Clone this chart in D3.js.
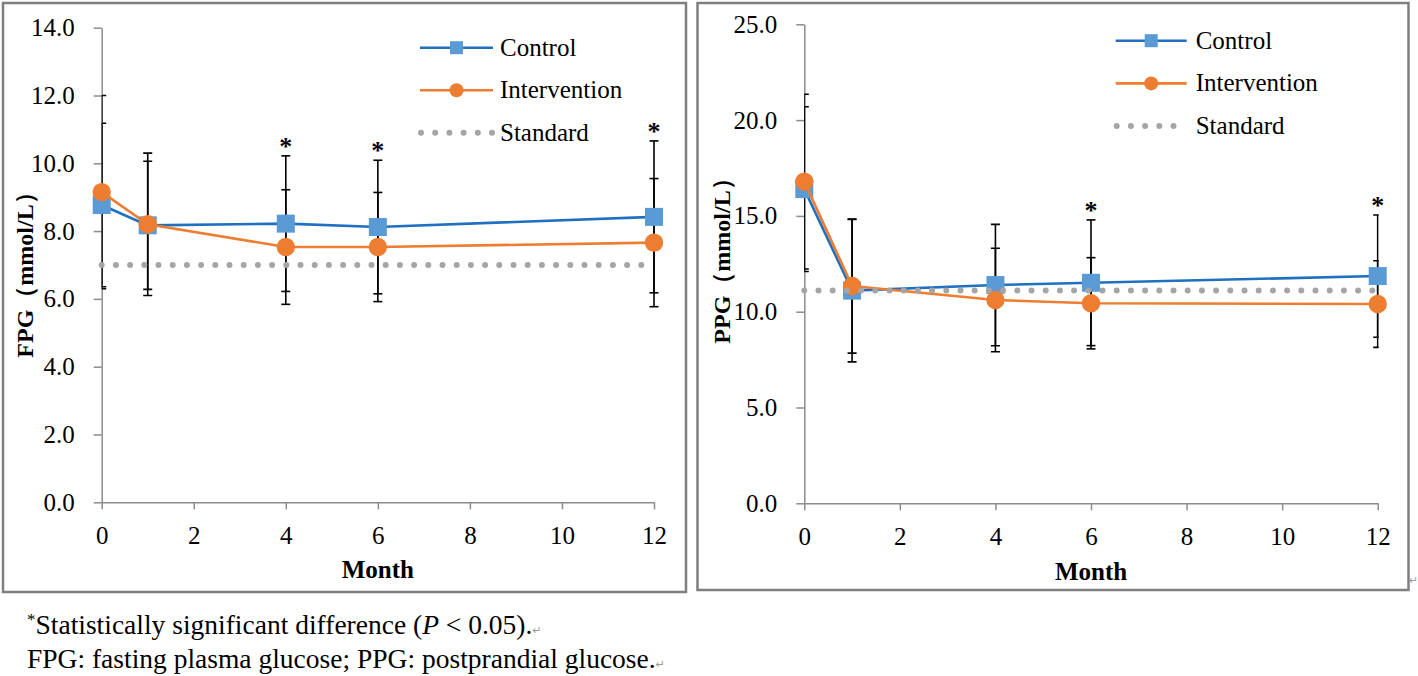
<!DOCTYPE html>
<html><head><meta charset="utf-8">
<script src="https://cdn.jsdelivr.net/npm/d3@7"></script>
<style>html,body{margin:0;padding:0;background:#fff;}svg{display:block;}</style>
</head><body>
<svg id="chart" width="1418" height="676"></svg>
<script>
// ---------- data ----------
const months = [0, 1, 4, 6, 12];
const xTicks = [0, 2, 4, 6, 8, 10, 12];
const seriesNames = ["Control", "Intervention", "Standard"];

const fpgControl = [8.77, 8.17, 8.22, 8.12, 8.42];
const fpgControlSD = [2.41, 1.89, 2.00, 1.97, 2.24];
const fpgIntervention = [9.15, 8.20, 7.53, 7.53, 7.66];
const fpgInterventionSD = [2.85, 2.10, 1.69, 1.61, 1.89];
const fpgStandard = 7.0;
const fpgSignificant = [false, false, true, true, true];
const fpgTicks = [0, 2, 4, 6, 8, 10, 12, 14];

const ppgControl = [16.40, 11.10, 11.39, 11.51, 11.86];
const ppgControlSD = [4.30, 3.72, 3.17, 3.28, 3.19];
const ppgIntervention = [16.79, 11.34, 10.61, 10.44, 10.40];
const ppgInterventionSD = [4.56, 3.50, 2.70, 2.38, 2.26];
const ppgStandard = 11.1;
const ppgSignificant = [false, false, false, true, true];
const ppgTicks = [0, 5, 10, 15, 20, 25];

// ---------- styles ----------
const SERIF = "'Liberation Serif','Times New Roman',serif";
const BLUE_LINE = "#1F70C1", BLUE_FILL = "#5B9BD5";
const ORANGE = "#ED7D31", GREY_DOT = "#A5A5A5", AXIS = "#8C8C8C";

const svg = d3.select("#chart");

function drawPanel(cfg) {
  const g = svg.append("g");
  // frame
  g.append("rect").attr("x", cfg.frame[0]).attr("y", cfg.frame[1])
    .attr("width", cfg.frame[2]).attr("height", cfg.frame[3])
    .attr("fill", "#fff").attr("stroke", "#7F7F7F").attr("stroke-width", 2.5);

  const x = d3.scaleLinear().domain([0, 12]).range(cfg.xRange);
  const y = d3.scaleLinear().domain(cfg.yDomain).range(cfg.yRange);

  // axes
  const yAxis = g.append("g").attr("transform", `translate(${cfg.xRange[0]},0)`)
    .call(d3.axisLeft(y).tickValues(cfg.yTicks).tickFormat(d3.format(".1f"))
      .tickSize(8).tickSizeOuter(0).tickPadding(19));
  const xAxis = g.append("g").attr("transform", `translate(0,${cfg.yRange[0]})`)
    .call(d3.axisBottom(x).tickValues(xTicks).tickFormat(d3.format("d"))
      .tickSize(7).tickSizeOuter(0).tickPadding(17));
  [yAxis, xAxis].forEach(a => {
    a.select(".domain").attr("stroke", AXIS).attr("stroke-width", 1.5);
    a.selectAll(".tick line").attr("stroke", AXIS).attr("stroke-width", 1.5);
    a.selectAll(".tick text").attr("fill", "#000").attr("font-family", SERIF).attr("font-size", 25);
  });

  // axis titles
  g.append("text").attr("transform", `translate(${cfg.yLabelPos[0]},${cfg.yLabelPos[1]}) rotate(-90)`)
    .attr("text-anchor", "middle").attr("font-family", SERIF).attr("font-weight", "bold")
    .attr("font-size", 24).attr("fill", "#000").text(cfg.yLabel);
  g.append("text").attr("x", (cfg.xRange[0] + cfg.xRange[1]) / 2).attr("y", cfg.xLabelY)
    .attr("text-anchor", "middle").attr("font-family", SERIF).attr("font-weight", "bold")
    .attr("font-size", 25).attr("fill", "#000").text("Month");

  // clip for error-bar caps
  const clipId = "clip" + cfg.id;
  svg.append("clipPath").attr("id", clipId).append("rect")
    .attr("x", cfg.xRange[0]).attr("y", 0)
    .attr("width", cfg.xRange[1] - cfg.xRange[0] + cfg.capExtra).attr("height", 676);

  const series = [
    {vals: cfg.control, sd: cfg.controlSD},
    {vals: cfg.intervention, sd: cfg.interventionSD}
  ];
  const eb = g.append("g").attr("clip-path", `url(#${clipId})`)
    .attr("stroke", "#000").attr("stroke-width", 1.6).attr("fill", "none");
  const capW = 4.5;
  series.forEach(s => {
    months.forEach((m, i) => {
      const cx = x(m), lo = y(s.vals[i] - s.sd[i]), hi = y(s.vals[i] + s.sd[i]);
      eb.append("line").attr("x1", cx).attr("x2", cx).attr("y1", lo).attr("y2", hi);
      eb.append("line").attr("x1", cx - capW).attr("x2", cx + capW).attr("y1", lo).attr("y2", lo);
      eb.append("line").attr("x1", cx - capW).attr("x2", cx + capW).attr("y1", hi).attr("y2", hi);
    });
  });

  // asterisks above the highest cap
  months.forEach((m, i) => {
    if (!cfg.significant[i]) return;
    const top = Math.min(y(cfg.control[i] + cfg.controlSD[i]), y(cfg.intervention[i] + cfg.interventionSD[i]));
    g.append("text").attr("x", x(m)).attr("y", top - 1).attr("text-anchor", "middle")
      .attr("font-family", SERIF).attr("font-weight", "bold").attr("font-size", 26).attr("fill", "#000").text("*");
  });

  const line = d3.line().x((d, i) => x(months[i])).y(d => y(d));
  // control
  g.append("path").datum(cfg.control).attr("d", line).attr("fill", "none")
    .attr("stroke", BLUE_LINE).attr("stroke-width", 2.6);
  g.selectAll(null).data(cfg.control).enter().append("rect")
    .attr("x", (d, i) => x(months[i]) - 9).attr("y", d => y(d) - 9)
    .attr("width", 18).attr("height", 18).attr("fill", BLUE_FILL);
  // intervention
  g.append("path").datum(cfg.intervention).attr("d", line).attr("fill", "none")
    .attr("stroke", ORANGE).attr("stroke-width", 2.6);
  g.selectAll(null).data(cfg.intervention).enter().append("circle")
    .attr("cx", (d, i) => x(months[i])).attr("cy", d => y(d)).attr("r", 9.2).attr("fill", ORANGE);
  // standard
  g.append("line").attr("x1", x(0)).attr("x2", x(12)).attr("y1", y(cfg.standard)).attr("y2", y(cfg.standard))
    .attr("stroke", GREY_DOT).attr("stroke-width", 6).attr("stroke-linecap", "round")
    .attr("stroke-dasharray", "0 14.2");

  // legend
  const L = cfg.legend; // [lineX1, lineX2, textX, y0, dy]
  const lg = g.append("g");
  seriesNames.forEach((name, i) => {
    const ly = L[3] + i * L[4];
    const mx = (L[0] + L[1]) / 2;
    if (i === 0) {
      lg.append("line").attr("x1", L[0]).attr("x2", L[1]).attr("y1", ly).attr("y2", ly)
        .attr("stroke", BLUE_LINE).attr("stroke-width", 2.6);
      lg.append("rect").attr("x", mx - 6.5).attr("y", ly - 6.5).attr("width", 13).attr("height", 13).attr("fill", BLUE_FILL);
    } else if (i === 1) {
      lg.append("line").attr("x1", L[0]).attr("x2", L[1]).attr("y1", ly).attr("y2", ly)
        .attr("stroke", ORANGE).attr("stroke-width", 2.6);
      lg.append("circle").attr("cx", mx).attr("cy", ly).attr("r", 7).attr("fill", ORANGE);
    } else {
      lg.append("line").attr("x1", L[0] + 1).attr("x2", L[1]).attr("y1", ly).attr("y2", ly)
        .attr("stroke", GREY_DOT).attr("stroke-width", 6).attr("stroke-linecap", "round")
        .attr("stroke-dasharray", "0 14.2");
    }
    lg.append("text").attr("x", L[2]).attr("y", ly + 8).attr("font-family", SERIF)
      .attr("font-size", 25).attr("fill", "#000").text(name);
  });
}

drawPanel({
  id: "L", frame: [3, 3, 683, 589],
  xRange: [101.7, 654], yRange: [502.3, 27.7], yDomain: [0, 14], yTicks: fpgTicks,
  yLabel: "FPG（mmol/L）", yLabelPos: [33, 269], xLabelY: 578, capExtra: 6,
  control: fpgControl, controlSD: fpgControlSD,
  intervention: fpgIntervention, interventionSD: fpgInterventionSD,
  standard: fpgStandard, significant: fpgSignificant,
  legend: [420, 493, 500, 47.7, 42.5]
});

drawPanel({
  id: "R", frame: [697.5, 3, 711, 587],
  xRange: [804.3, 1377.7], yRange: [503.3, 24.3], yDomain: [0, 25], yTicks: ppgTicks,
  yLabel: "PPG（mmol/L）", yLabelPos: [730, 255], xLabelY: 580, capExtra: 1,
  control: ppgControl, controlSD: ppgControlSD,
  intervention: ppgIntervention, interventionSD: ppgInterventionSD,
  standard: ppgStandard, significant: ppgSignificant,
  legend: [1115.7, 1186.7, 1195.7, 40.7, 42.7]
});

// paragraph mark after right panel
svg.append("text").attr("x", 1409).attr("y", 584).attr("font-family", "DejaVu Sans")
  .attr("font-size", 11).attr("fill", "#9a9a9a").text("↵");

// footnote
const fn = svg.append("g").attr("font-family", SERIF).attr("font-size", 27.5).attr("fill", "#000");
const t1 = fn.append("text").attr("x", 27).attr("y", 634);
t1.append("tspan").attr("font-size", 17).attr("dy", -9).text("*");
t1.append("tspan").attr("dy", 9).text("Statistically significant difference (");
t1.append("tspan").attr("font-style", "italic").text("P");
t1.append("tspan").text(" < 0.05).");
t1.append("tspan").attr("font-family", "DejaVu Sans").attr("font-size", 11).attr("fill", "#9a9a9a").text("↵");
const t2 = fn.append("text").attr("x", 27).attr("y", 668);
t2.append("tspan").text("FPG: fasting plasma glucose; PPG: postprandial glucose.");
t2.append("tspan").attr("font-family", "DejaVu Sans").attr("font-size", 11).attr("fill", "#9a9a9a").text("↵");
</script>
</body></html>
